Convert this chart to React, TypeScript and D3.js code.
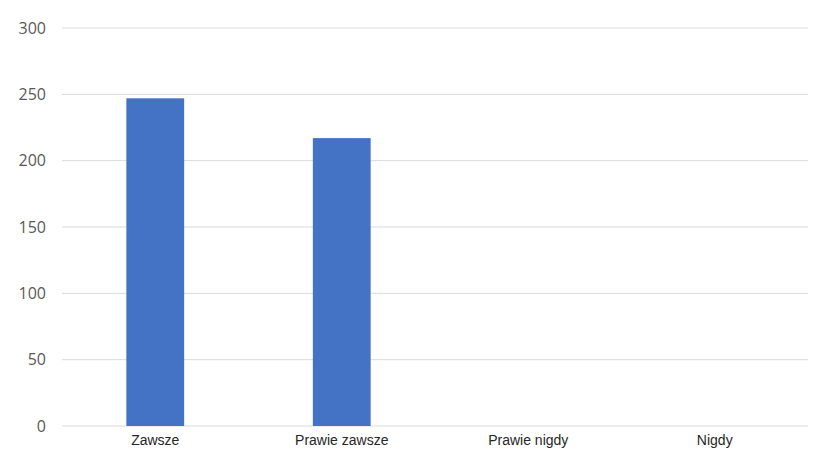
import React, { useEffect, useRef } from 'react';
import * as d3 from 'd3';

const categories = ['Zawsze', 'Prawie zawsze', 'Prawie nigdy', 'Nigdy'];
const values = [247, 217, 0, 0];
const yTicks = [0, 50, 100, 150, 200, 250, 300];

const App: React.FC = () => {
  const svgRef = useRef<SVGSVGElement>(null);
  const width = 820;
  const height = 462;

  useEffect(() => {
    if (!svgRef.current) return;
    const svg = d3.select(svgRef.current);
    svg.selectAll('*').remove();

    const margin = { top: 28, right: 12, bottom: 36, left: 62 };
    const plotBottom = height - margin.bottom;

    const x = d3.scaleBand<string>()
      .domain(categories)
      .range([margin.left, width - margin.right])
      .padding(0);

    const y = d3.scaleLinear()
      .domain([0, 300])
      .range([plotBottom, margin.top]);

    // grid lines
    svg.append('g')
      .selectAll('line')
      .data(yTicks)
      .enter().append('line')
      .attr('x1', margin.left)
      .attr('x2', width - margin.right)
      .attr('y1', d => y(d))
      .attr('y2', d => y(d))
      .attr('stroke', '#d9d9d9')
      .attr('stroke-width', 1);

    // y labels
    svg.append('g')
      .selectAll('text')
      .data(yTicks)
      .enter().append('text')
      .attr('x', 46)
      .attr('y', d => y(d))
      .attr('dy', '0.35em')
      .attr('text-anchor', 'end')
      .style('font-family', '"Open Sans", "Noto Sans", sans-serif')
      .style('font-size', '16px')
      .attr('fill', '#595959')
      .text(d => d);

    // bars
    const barW = x.bandwidth() * 0.31;
    svg.append('g')
      .selectAll('rect')
      .data(categories)
      .enter().append('rect')
      .attr('x', d => (x(d) as number) + x.bandwidth() / 2 - barW / 2)
      .attr('y', (_, i) => y(values[i]))
      .attr('width', barW)
      .attr('height', (_, i) => plotBottom - y(values[i]))
      .attr('fill', '#4472c4');

    // x labels
    svg.append('g')
      .selectAll('text')
      .data(categories)
      .enter().append('text')
      .attr('x', d => (x(d) as number) + x.bandwidth() / 2)
      .attr('y', 445)
      .attr('text-anchor', 'middle')
      .style('font-family', '"Liberation Sans", Arial, sans-serif')
      .style('font-size', '14px')
      .attr('fill', '#262626')
      .text(d => d);
  }, []);

  return (
    <div style={{ position: 'absolute', left: 0, top: 0 }}>
      <svg ref={svgRef} width={width} height={height} style={{ display: 'block', background: '#fff' }} />
    </div>
  );
};

export default App;
